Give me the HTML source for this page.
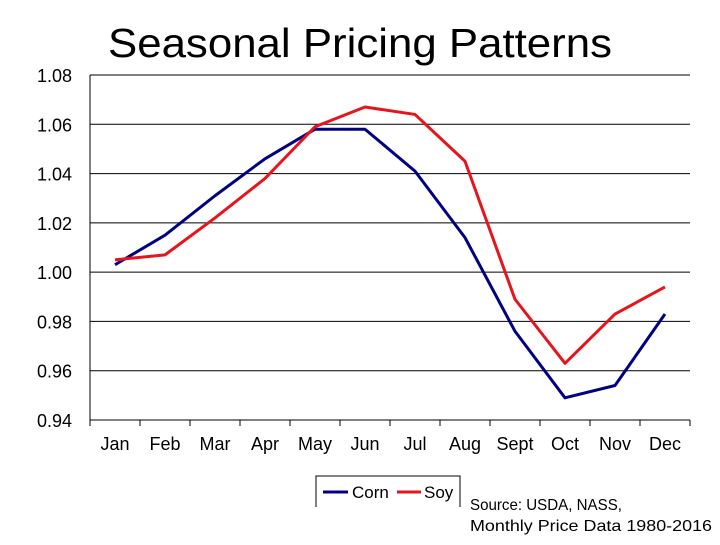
<!DOCTYPE html>
<html><head><meta charset="utf-8"><style>
body{margin:0;background:#fff;width:720px;height:540px;overflow:hidden;font-family:"Liberation Sans",sans-serif}
</style></head><body>
<svg id="chart" width="720" height="540" xmlns="http://www.w3.org/2000/svg">
<text x="108" y="57" font-size="41" textLength="504" lengthAdjust="spacingAndGlyphs" font-family="Liberation Sans, sans-serif">Seasonal Pricing Patterns</text>
<g id="grid"></g><g id="axes"></g><g id="series"></g>
<g>
<path d="M316,507 V476 H460 V507" fill="none" stroke="#000" stroke-width="1"/>
<line x1="323" y1="492" x2="348" y2="492" stroke="#000080" stroke-width="3"/>
<text x="352" y="498" font-size="17">Corn</text>
<line x1="397" y1="492" x2="421" y2="492" stroke="#e8141c" stroke-width="3"/>
<text x="424" y="498" font-size="17">Soy</text>
</g>
<text x="470" y="510" font-size="16" textLength="152" lengthAdjust="spacingAndGlyphs">Source: USDA, NASS,</text>
<text x="470" y="531" font-size="16" textLength="242" lengthAdjust="spacingAndGlyphs">Monthly Price Data 1980-2016</text>
</svg>
<script>
const months=["Jan","Feb","Mar","Apr","May","Jun","Jul","Aug","Sept","Oct","Nov","Dec"];
const corn=[1.003,1.015,1.031,1.046,1.058,1.058,1.041,1.014,0.976,0.949,0.954,0.983];
const soy=[1.005,1.007,1.022,1.038,1.059,1.067,1.064,1.045,0.989,0.963,0.983,0.994];
const yTicks=[0.94,0.96,0.98,1.00,1.02,1.04,1.06,1.08];
const NS="http://www.w3.org/2000/svg";
const L=90,R=690,T=75,B=420,yMin=0.94,yMax=1.08;
const xs=i=>L+(R-L)/months.length*(i+0.5);
const ys=v=>B-(v-yMin)/(yMax-yMin)*(B-T);
function mk(tag,attrs,parent){const e=document.createElementNS(NS,tag);for(const k in attrs)e.setAttribute(k,attrs[k]);document.getElementById(parent).appendChild(e);return e;}
yTicks.forEach(v=>{
  const l=mk("line",{x1:L,x2:R,y1:ys(v),y2:ys(v),stroke:"#000","stroke-width":1},"grid");
  
  
  const t=mk("text",{x:72,y:ys(v)+7,"font-size":18,"text-anchor":"end"},"axes");
  t.textContent=v.toFixed(2);
  
  
});
const ax=mk("line",{x1:L,x2:L,y1:T,y2:B,stroke:"#000","stroke-width":1},"axes");


for(let i=0;i<=months.length;i++){
  const x=L+(R-L)/months.length*i;
  const tk=mk("line",{x1:x,x2:x,y1:B,y2:B+6,stroke:"#000","stroke-width":1},"axes");
  
  
}
months.forEach((m,i)=>{
  const t=mk("text",{x:xs(i),y:450,"font-size":18,"text-anchor":"middle"},"axes");
  t.textContent=m;
  
  
});
function line(data,color,name){
  const p=mk("polyline",{points:data.map((v,i)=>xs(i)+","+ys(v)).join(" "),fill:"none",stroke:color,"stroke-width":3,"stroke-linejoin":"round"},"series");
  
  
}
line(corn,"#000080","corn-line");
line(soy,"#e8141c","soy-line");
</script>
</body></html>
